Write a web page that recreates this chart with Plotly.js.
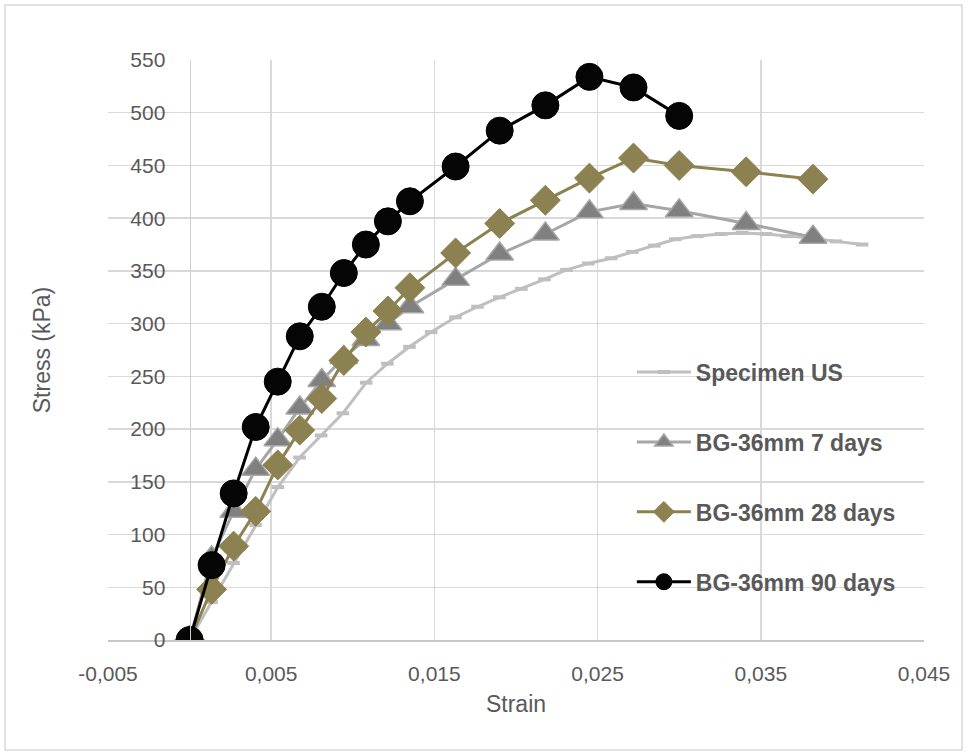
<!DOCTYPE html>
<html>
<head>
<meta charset="utf-8">
<script src="https://cdn.plot.ly/plotly-3.0.1.min.js"></script>
<style>html,body{margin:0;padding:0;background:#fff}</style>
</head>
<body>
<div id="chart" style="width:968px;height:756px"></div>
<script>
// ---- data ----
const seriesNames = ["Specimen US", "BG-36mm 7 days", "BG-36mm 28 days", "BG-36mm 90 days"];

const strainUS = [0, 0.00135, 0.00269, 0.00404, 0.00541, 0.00674, 0.00806, 0.00939, 0.01082, 0.01212,
                  0.01347, 0.01480, 0.01629, 0.01764, 0.01898, 0.02033, 0.02174, 0.02309, 0.02443, 0.02584,
                  0.02713, 0.02848, 0.02976, 0.03111, 0.03256, 0.03386, 0.03532, 0.03662, 0.03816, 0.03960, 0.04121];
const stressUS = [0, 36, 73, 109, 145, 173, 194, 215, 244, 262,
                  278, 292, 306, 316, 325, 333, 342, 351, 357, 362,
                  368, 374, 380, 383, 385, 386, 385, 383, 381, 378, 375];

const strain7 = [0, 0.00135, 0.0027, 0.00405, 0.0054, 0.00675, 0.0081, 0.00945, 0.0108, 0.01215,
                 0.0135, 0.0163, 0.0190, 0.0218, 0.0245, 0.0272, 0.0300, 0.0341, 0.0382];
const stress7 = [0, 78, 122, 162, 190, 220, 246, 268, 285, 300,
                 316, 342, 366, 385, 406, 414, 407, 395, 382];

const strain28 = [0, 0.00135, 0.0027, 0.00405, 0.0054, 0.00675, 0.0081, 0.00945, 0.0108, 0.01215,
                  0.0135, 0.0163, 0.0190, 0.0218, 0.0245, 0.0272, 0.0300, 0.0341, 0.0382];
const stress28 = [0, 48, 89, 122, 166, 199, 229, 265, 292, 312,
                  334, 367, 395, 417, 438, 457, 450, 444, 437];

const strain90 = [0, 0.00135, 0.0027, 0.00405, 0.0054, 0.00675, 0.0081, 0.00945, 0.0108, 0.01215,
                  0.0135, 0.0163, 0.0190, 0.0218, 0.0245, 0.0272, 0.0300];
const stress90 = [0, 71, 139, 202, 245, 288, 316, 348, 375, 397,
                  416, 449, 483, 507, 534, 524, 497];

const xTickVals = [-0.005, 0.005, 0.015, 0.025, 0.035, 0.045];
const xTickText = ["-0,005", "0,005", "0,015", "0,025", "0,035", "0,045"];
const xTitle = "Strain";
const yTitle = "Stress (kPa)";

// ---- styles ----
const FONT = "Liberation Sans, Arial, sans-serif";
const TXT = "#595959";
const GRID = "#D9D9D9";

const traces = [
  {
    x: strainUS, y: stressUS, name: seriesNames[0], type: "scatter", mode: "lines+markers",
    line: {color: "#BFBFBF", width: 3},
    marker: {symbol: "line-ew", size: 9, color: "#BFBFBF", line: {color: "#BFBFBF", width: 4}},
    legendgroup: "g1"
  },
  {
    x: strain7, y: stress7, name: seriesNames[1], type: "scatter", mode: "lines+markers",
    line: {color: "#A6A6A6", width: 3},
    marker: {symbol: "triangle-up", size: 24, color: "#808080", line: {color: "#A6A6A6", width: 1.5}},
    legendgroup: "g2"
  },
  {
    x: strain28, y: stress28, name: seriesNames[2], type: "scatter", mode: "lines+markers",
    line: {color: "#8C8150", width: 3},
    marker: {symbol: "diamond", size: 23, color: "#8C8150", line: {color: "#8C8150", width: 1}},
    legendgroup: "g3"
  },
  {
    x: strain90, y: stress90, name: seriesNames[3], type: "scatter", mode: "lines+markers",
    line: {color: "#000000", width: 3},
    marker: {symbol: "circle", size: 27, color: "#050505", line: {color: "#000000", width: 1}},
    legendgroup: "g4"
  }
];

const layout = {
  width: 968, height: 756,
  margin: {l: 108, r: 44, t: 60, b: 116},
  paper_bgcolor: "#ffffff", plot_bgcolor: "#ffffff",
  font: {family: FONT, color: TXT, size: 21},
  showlegend: true,
  xaxis: {
    range: [-0.005, 0.045],
    tickmode: "array", tickvals: xTickVals, ticktext: xTickText,
    showgrid: true, gridcolor: GRID, gridwidth: 1.5,
    zeroline: false,
    showline: true, linecolor: "#C8C8C8", linewidth: 1.5,
    ticks: "", ticklabelstandoff: 14,
    tickfont: {family: FONT, size: 21, color: TXT},
    title: {text: xTitle, font: {family: FONT, size: 23, color: TXT}, standoff: 12},
    fixedrange: true
  },
  yaxis: {
    range: [0, 550], dtick: 50, tick0: 0,
    anchor: "free", position: 0.1,
    showgrid: true, gridcolor: GRID, gridwidth: 1.5,
    zeroline: false,
    showline: true, linecolor: "#D0D0D0", linewidth: 1.5,
    ticks: "", ticklabelstandoff: 20,
    tickfont: {family: FONT, size: 21, color: TXT},
    title: {text: yTitle, font: {family: FONT, size: 23, color: TXT}, standoff: 72},
    fixedrange: true
  },
  legend: {
    x: 0.642, xanchor: "left", y: 0.499, yanchor: "top",
    bgcolor: "rgba(0,0,0,0)", borderwidth: 0,
    font: {family: FONT, size: 23, color: TXT, weight: "bold"},
    tracegroupgap: 37, traceorder: "grouped", itemwidth: 54
  },
  shapes: [{
    type: "rect", xref: "paper", yref: "paper",
    x0: -0.1262, x1: 1.0466, y0: -0.1897, y1: 1.0948,
    line: {color: "#D9D9D9", width: 1.5}, fillcolor: "rgba(0,0,0,0)", layer: "below"
  }]
};

Plotly.newPlot("chart", traces, layout, {displayModeBar: false, staticPlot: true});
</script>
</body>
</html>
